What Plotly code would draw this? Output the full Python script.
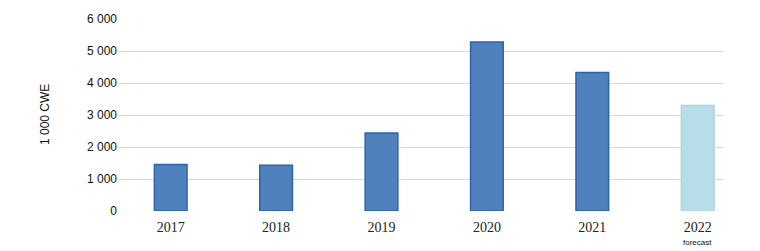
import plotly.graph_objects as go

years = ["2017", "2018", "2019", "2020", "2021", "2022"]
values = [1450, 1430, 2440, 5280, 4330, 3300]
colors = ["#4F81BD"] * 5 + ["#B7DDE8"]
line_colors = ["#2C63AE"] * 5 + ["#A8D6E4"]
tick_vals = [0, 1000, 2000, 3000, 4000, 5000, 6000]
tick_text = ["0", "1 000", "2 000", "3 000", "4 000", "5 000", "6 000"]

W, H = 760, 251
L, R, T, B = 118, 37, 16, 40

fig = go.Figure()
fig.add_trace(go.Bar(
    x=list(range(len(years))), y=values,
    marker=dict(color=colors, line=dict(color=line_colors, width=1.5)),
    width=0.31,
))

fig.update_layout(
    width=W, height=H,
    margin=dict(l=L, r=R, t=T, b=B),
    paper_bgcolor="white", plot_bgcolor="white",
    showlegend=False,
    xaxis=dict(
        range=[-0.5, 5.24],
        tickmode="array", tickvals=list(range(len(years))), ticktext=years,
        tickfont=dict(family="Liberation Serif", size=14, color="#222"),
        ticklabelstandoff=6,
        showgrid=False, zeroline=False, showline=False, ticks="",
    ),
    yaxis=dict(
        range=[0, 6000],
        tickmode="array", tickvals=tick_vals, ticktext=tick_text,
        tickfont=dict(family="Liberation Sans", size=12, color="#111"),
        showgrid=True, gridcolor="#D9D9D9", gridwidth=1.3,
        zeroline=False, showline=False, ticks="",
    ),
)

fig.add_annotation(
    text="1 000 CWE", textangle=-90,
    xref="paper", yref="paper",
    x=(45 - L) / (W - L - R), y=0.5,
    xanchor="center", yanchor="middle", showarrow=False,
    font=dict(family="Liberation Sans", size=12, color="#111"),
)
fig.add_annotation(
    text="forecast",
    xref="x", yref="paper",
    x=5, y=-(243 - (H - B)) / (H - T - B),
    xanchor="center", yanchor="middle", showarrow=False,
    font=dict(family="Liberation Sans", size=8, color="#111"),
)

fig.write_html("out.html")
